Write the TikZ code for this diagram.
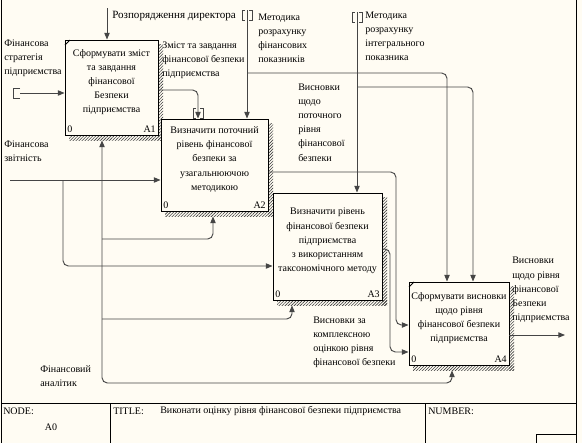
\documentclass[tikz,border=0pt]{standalone}
\usepackage{fontspec}
\setmainfont{Liberation Serif}
\usetikzlibrary{arrows.meta,patterns.meta,fit,calc}
\definecolor{paper}{HTML}{FFFCF3}
\definecolor{wire}{HTML}{454545}
\begin{document}
\begin{tikzpicture}[x=0.75pt,y=-0.75pt,
  txt/.style={font=\fontsize{7.5}{10.6}\selectfont, inner sep=0pt, text=black},
  lbl/.style={txt, align=left, anchor=west},
  proc/.style={draw=black, line width=0.7pt, fill=paper, inner sep=0pt},
  shade/.style={pattern={Lines[angle=45,distance=1.6pt,line width=0.45pt]}, pattern color=black!75},
  conn/.style={draw=wire, line width=0.7pt, rounded corners=4pt},
  arr/.style={-{Triangle[length=5pt,width=4pt]}},
  arrs/.style={{Triangle[length=5pt,width=4pt]}-{Triangle[length=5pt,width=4pt]}},
  tun/.style={draw=wire, line width=0.6pt},
  frame/.style={draw=black, line width=0.75pt}
]
\useasboundingbox (0,0) rectangle (582,443);
\fill[paper] (0,0) rectangle (582,443);

% ---------- frame and title block ----------
\draw[frame] (1,0) -- (1,443);
\draw[frame] (576,0) -- (576,443);
\draw[frame] (1,403) -- (576,403);
\draw[frame] (110,403) -- (110,443);
\draw[frame] (425,403) -- (425,443);
\draw[frame] (536,443) -- (536,434) -- (576,434);
\node[txt, anchor=west] (tnode) at (3,411) {NODE:};
\node[txt] (tnum) at (51,427) {A0};
\node[txt, anchor=west] (ttitle) at (113,411) {TITLE:};
\node[txt, anchor=west] (ttext) at (160,411) {Виконати оцінку рівня фінансової безпеки підприємства};
\node[txt, anchor=west] (tnumber) at (428,411) {NUMBER:};

% ---------- boxes ----------
% A1
\fill[shade] (158,44) rectangle (163,140);
\fill[shade] (69,135) rectangle (163,140);
\node[proc, fit={(65,40) (158,135)}] (A1) {};
\draw[line width=0.6pt] (65,45) -- (70,40);
\node[txt, align=center] (A1t) at (111.5,82) {Сформувати зміст\\та завдання\\фінансової\\Безпеки\\підприємства};
\node[txt, anchor=south west] (A1n) at (67,133) {0};
\node[txt, anchor=south east] (A1c) at (156,133) {A1};
% A2
\fill[shade] (268,123) rectangle (273,216);
\fill[shade] (165,211) rectangle (273,216);
\node[proc, fit={(161,119) (268,211)}] (A2) {};
\node[txt, align=center] (A2t) at (214.5,159.5) {Визначити поточний\\рівень фінансової\\безпеки за\\узагальнюючою\\методикою};
\node[txt, anchor=south west] (A2n) at (163,209) {0};
\node[txt, anchor=south east] (A2c) at (266,209) {A2};
% A3
\fill[shade] (382,197) rectangle (387,305);
\fill[shade] (277,300) rectangle (387,305);
\node[proc, fit={(273,193) (382,300)}] (A3) {};
\node[txt, align=center] (A3t) at (327.5,241) {Визначити рівень\\фінансової безпеки\\підприємства\\з використанням\\таксономічного методу};
\node[txt, anchor=south west] (A3n) at (275,298) {0};
\node[txt, anchor=south east] (A3c) at (380,298) {A3};
% A4
\fill[shade] (509,286) rectangle (514,370);
\fill[shade] (413,365) rectangle (514,370);
\node[proc, fit={(409,282) (509,365)}] (A4) {};
\draw[line width=0.6pt] (409,287) -- (414,282);
\node[txt, align=center] (A4t) at (459,318) {Сформувати висновки\\щодо рівня\\фінансової безпеки\\підприємства};
\node[txt, anchor=south west] (A4n) at (411,363) {0};
\node[txt, anchor=south east] (A4c) at (507,363) {A4};

% ---------- helper coordinates ----------
\coordinate (in1) at (20,93);
\coordinate (ctl1) at (107,8);
\coordinate (k1) at (198,90);
\coordinate (ctl2) at (247,10);
\coordinate (j2) at (247,73);
\coordinate (k2) at (447,73);
\coordinate (ctl3) at (357,12);
\coordinate (j3) at (357,87);
\coordinate (k3) at (473,87);
\coordinate (in2) at (10,180);
\coordinate (j4) at (63,180);
\coordinate (k4) at (63,266);
\coordinate (k5) at (396,172);
\coordinate (k6) at (396,325);
\coordinate (k7) at (390,249);
\coordinate (k8) at (390,352);
\coordinate (m0) at (102,383);
\coordinate (m1) at (102,239);
\coordinate (k9) at (213,239);
\coordinate (m2) at (102,319);
\coordinate (k10) at (292,319);
\coordinate (k11) at (452,383);
\coordinate (out4) at (565,335);

% ---------- connectors ----------
\draw[conn,arr] (in1) -- (A1.west |- in1);
\draw[conn,arr] (ctl1) -- (A1.north -| ctl1);
\draw[conn,arr] (A1.east |- k1) -- (k1) -- (A2.north -| k1);
\draw[conn,arr] (ctl2) -- (A2.north -| ctl2);
\draw[conn,arr] (j2) -- (k2) -- (A4.north -| k2);
\draw[conn,arr] (ctl3) -- (A3.north -| ctl3);
\draw[conn,arr] (j3) -- (k3) -- (A4.north -| k3);
\draw[conn,arr] (in2) -- (A2.west |- in2);
\draw[conn,arr] (j4) -- (k4) -- (A3.west |- k4);
\draw[conn,arr] (A2.east |- k5) -- (k5) -- (k6) -- (A4.west |- k6);
\draw[conn,arr] (A3.east |- k7) -- (k7) -- (k8) -- (A4.west |- k8);
\draw[conn,arrs] ($(A1.south -| m0)+(0,5)$) -- (m0) -- (k11) -- ($(A4.south -| k11)+(0,5)$);
\draw[conn,arr] (m1) -- (k9) -- ($(A2.south -| k9)+(0,5)$);
\draw[conn,arr] (m2) -- (k10) -- ($(A3.south -| k10)+(0,5)$);
\draw[conn,arr] (A4.east |- out4) -- (out4);

% ---------- tunnel marks ----------
\draw[tun] (20,88) -- (13,88) -- (13,98) -- (20,98);
\draw[tun] (196,108) -- (193,108) -- (193,118) -- (196,118);
\draw[tun] (200,108) -- (203,108) -- (203,118) -- (200,118);
\draw[tun] (245,10) -- (242,10) -- (242,20) -- (245,20);
\draw[tun] (249,10) -- (252,10) -- (252,20) -- (249,20);
\draw[tun] (355,12) -- (352,12) -- (352,22) -- (355,22);
\draw[tun] (359,12) -- (362,12) -- (362,22) -- (359,22);

% ---------- arrow labels ----------
\node[lbl] (L1) at (4,58.5) {Фінансова\\стратегія\\підприємства};
\node[lbl, font=\fontsize{8.3}{10.6}\selectfont] (L2) at (112,16) {Розпорядження директора};
\node[lbl] (L3) at (162,60) {Зміст та завдання\\фінансової безпеки\\підприємства};
\node[lbl] (L4) at (258,38) {Методика\\розрахунку\\фінансових\\показників};
\node[lbl] (L5) at (365,36) {Методика\\розрахунку\\інтегрального\\показника};
\node[lbl] (L6) at (298,122.5) {Висновки\\щодо\\поточного\\рівня\\фінансової\\безпеки};
\node[lbl] (L7) at (4,151) {Фінансова\\звітність};
\node[lbl] (L8) at (313,342) {Висновки за\\комплексною\\оцінкою рівня\\фінансової безпеки};
\node[lbl] (L9) at (40,376) {Фінансовий\\аналітик};
\node[lbl] (L10) at (512,290) {Висновки\\щодо рівня\\фінансової\\Безпеки\\підприємства};
\end{tikzpicture}
\end{document}
